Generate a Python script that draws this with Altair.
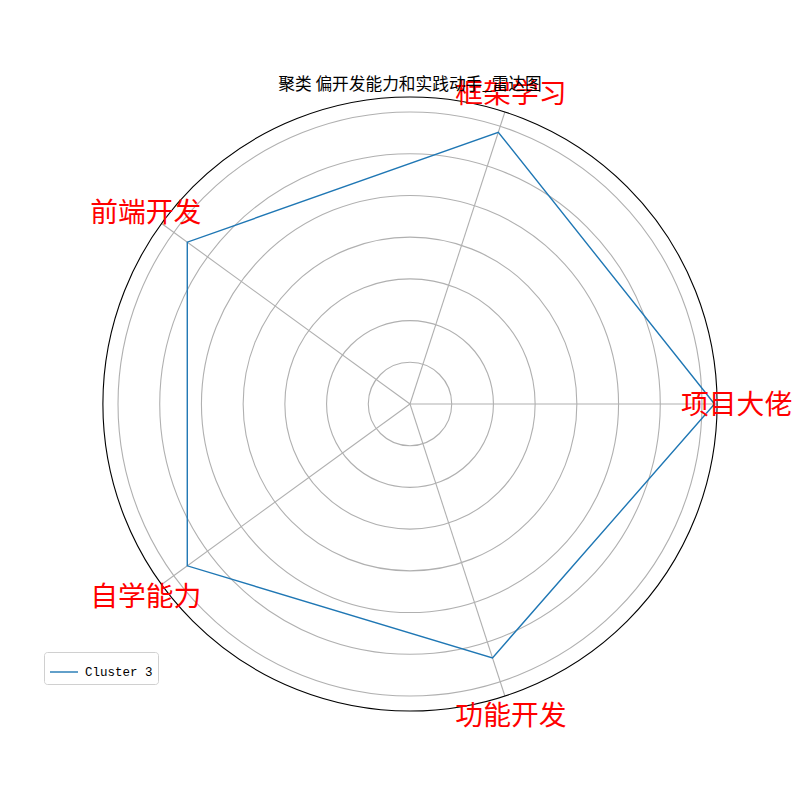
import math
import altair as alt
import pandas as pd

# ---- data ----
categories = ["项目大佬", "框架学习", "前端开发", "自学能力", "功能开发"]
values = [1.46, 1.37, 1.32, 1.32, 1.28]
series_name = "Cluster 3"
grid_levels = [0.2, 0.4, 0.6, 0.8, 1.0, 1.2, 1.4]
title_text = "聚类 偏开发能力和实践动手_雷达图"

RMAX = 1.472      # radial axis limit
LABEL_R = 1.566   # radius where category labels sit
SIZE = 614        # plot area (square)

n = len(categories)
line_df = pd.DataFrame({
    "category": categories + [categories[0]],
    "value": values + [values[0]],
    "idx": list(range(n)) + [n],
    "series": series_name,
})
line_df["angle"] = line_df["idx"] * 360.0 / n

axis_df = pd.DataFrame({"category": categories, "idx": list(range(n))})
axis_df["angle"] = axis_df["idx"] * 360.0 / n

xs = alt.Scale(domain=[-RMAX, RMAX], nice=False, zero=False)
ys = alt.Scale(domain=[-RMAX, RMAX], nice=False, zero=False)
rs = alt.Scale(type="linear", domain=[0, RMAX], range=[0, SIZE / 2], zero=True, nice=False)

grid = alt.Chart(pd.DataFrame({"r": grid_levels})).mark_arc(
    filled=False, fillOpacity=0, stroke="#b0b0b0", strokeWidth=1.1,
    theta=0, theta2=2 * math.pi
).encode(radius=alt.Radius("r:Q", scale=rs, stack=None))

outer = alt.Chart(pd.DataFrame({"r": [RMAX]})).mark_arc(
    filled=False, fillOpacity=0, stroke="black", strokeWidth=1.1,
    theta=0, theta2=2 * math.pi
).encode(radius=alt.Radius("r:Q", scale=rs, stack=None))

spokes = alt.Chart(axis_df).transform_calculate(
    x0="0", y0="0",
    x1=f"{RMAX}*cos(datum.angle*PI/180)",
    y1=f"{RMAX}*sin(datum.angle*PI/180)",
).mark_rule(color="#b0b0b0", strokeWidth=1.1).encode(
    x=alt.X("x0:Q", scale=xs, axis=None),
    y=alt.Y("y0:Q", scale=ys, axis=None),
    x2="x1:Q", y2="y1:Q",
)

line = alt.Chart(line_df).transform_calculate(
    px="datum.value*cos(datum.angle*PI/180)",
    py="datum.value*sin(datum.angle*PI/180)",
).mark_line(strokeWidth=1.4).encode(
    x=alt.X("px:Q", scale=xs, axis=None),
    y=alt.Y("py:Q", scale=ys, axis=None),
    order="idx:Q",
    color=alt.Color(
        "series:N",
        scale=alt.Scale(range=["#1f77b4"]),
        legend=alt.Legend(
            title=None, orient="none", legendX=-59, legendY=555,
            symbolType="stroke", symbolSize=784, symbolStrokeWidth=1.4,
            labelFont="Liberation Mono", labelFontSize=12.5, labelColor="black",
            padding=5, strokeColor="#d0d0d0", fillColor="white",
            cornerRadius=3, labelOffset=6,
        ),
    ),
)

labels = alt.Chart(axis_df).transform_calculate(
    lx=f"{LABEL_R}*cos(datum.angle*PI/180)",
    ly=f"{LABEL_R}*sin(datum.angle*PI/180)",
).mark_text(
    color="red", fontSize=27.8, font="Noto Sans CJK SC",
    align="center", baseline="middle", dy=2
).encode(
    x=alt.X("lx:Q", scale=xs, axis=None),
    y=alt.Y("ly:Q", scale=ys, axis=None),
    text="category:N",
)

chart = alt.layer(grid, spokes, line, outer, labels).properties(
    width=SIZE, height=SIZE,
    title=alt.Title(title_text, fontSize=16.7, font="Noto Sans CJK SC",
                    fontWeight="normal", color="black", anchor="middle",
                    frame="group", offset=6, dy=18),
    autosize=alt.AutoSizeParams(type="none"),
    padding={"left": 103, "top": 97, "right": 83, "bottom": 89},
).configure_view(stroke=None)

chart.save("out.html", embed_options={"renderer": "svg", "actions": False})
